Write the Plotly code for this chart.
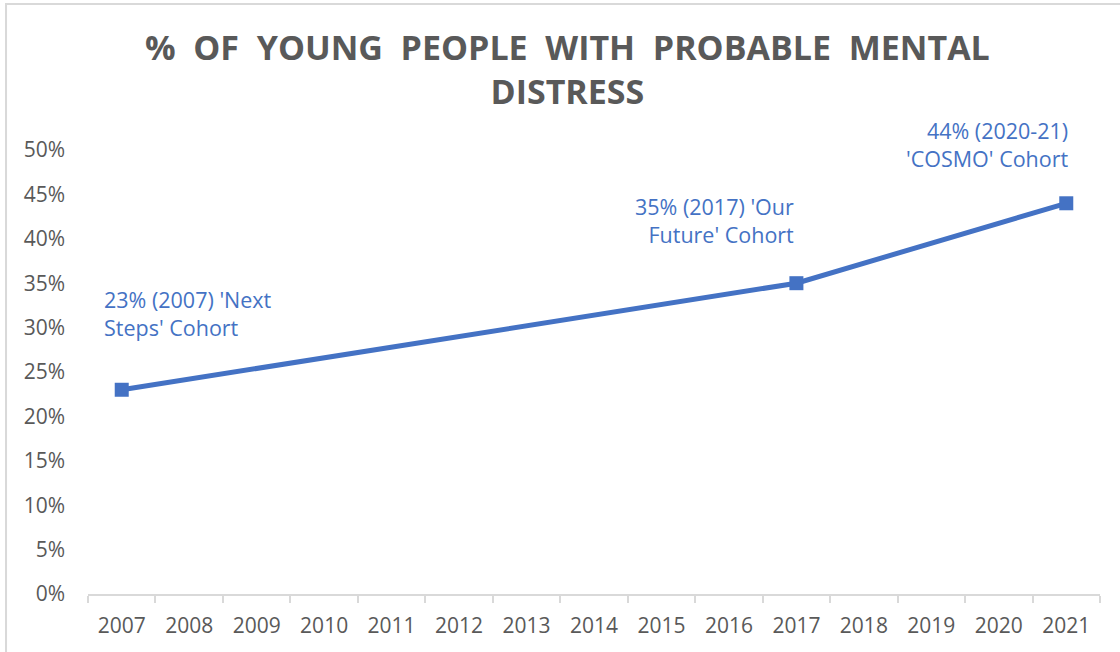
import plotly.graph_objects as go

# Survey waves and the share of young people with probable mental distress
years = [str(y) for y in range(2007, 2022)]
wave_years = ["2007", "2017", "2021"]
distress_share = [0.23, 0.35, 0.44]
wave_labels = [
    "23% (2007) 'Next<br>Steps' Cohort",
    "35% (2017) 'Our<br>Future' Cohort",
    "44% (2020-21)<br>'COSMO' Cohort",
]
y_ticks = [0, 0.05, 0.10, 0.15, 0.20, 0.25, 0.30, 0.35, 0.40, 0.45, 0.50]
y_tick_text = [f"{round(v * 100)}%" for v in y_ticks]

BLUE = "#4472C4"
GREY = "#595959"
AXIS = "#D9D9D9"
FONT = "Open Sans"

fig = go.Figure()
fig.add_trace(go.Scatter(
    x=wave_years, y=distress_share,
    mode="lines+markers",
    line=dict(color=BLUE, width=5),
    marker=dict(symbol="square", size=14, color=BLUE),
    hoverinfo="skip",
))

# Data labels beside each wave (offsets in pixels from the point)
label_pos = [
    dict(xanchor="left", align="left", ax=-20, ay=-76),
    dict(xanchor="right", align="right", ax=0, ay=-63),
    dict(xanchor="right", align="right", ax=5, ay=-59),
]
for x, y, text, pos in zip(wave_years, distress_share, wave_labels, label_pos):
    fig.add_annotation(
        x=years.index(x), y=y, text=text, showarrow=True,
        arrowcolor="rgba(0,0,0,0)", arrowwidth=0.1,
        ax=pos["ax"], ay=pos["ay"], xanchor=pos["xanchor"], align=pos["align"],
        yanchor="middle",
        font=dict(family=FONT, size=21.5, color=BLUE),
    )

fig.add_annotation(
    xref="paper", yref="paper", x=0.474, y=1.288, yanchor="top",
    text="<b>%  OF  YOUNG  PEOPLE  WITH  PROBABLE  MENTAL<br>DISTRESS</b>",
    showarrow=False, align="center",
    font=dict(family=FONT, size=34, color=GREY),
)

# Chart-area border
fig.add_shape(type="rect", xref="paper", yref="paper",
              x0=-0.081, x1=1.2, y0=-0.3, y1=1.329,
              line=dict(color=AXIS, width=2), layer="below")

fig.update_layout(
    width=1120, height=652,
    margin=dict(l=88, r=20, t=150, b=58),
    paper_bgcolor="white", plot_bgcolor="white",
    showlegend=False,
    font=dict(family=FONT, color=GREY),
    xaxis=dict(
        type="category", categoryorder="array", categoryarray=years,
        tickson="boundaries", ticks="outside", ticklen=7, tickcolor=AXIS,
        tickwidth=1.5, showline=True, linecolor=AXIS, linewidth=1.5,
        showgrid=False, tickfont=dict(family=FONT, size=21, color=GREY),
        ticklabelstandoff=12, range=[-0.5, 14.5], fixedrange=True,
    ),
    yaxis=dict(
        range=[0, 0.5], tickvals=y_ticks, ticktext=y_tick_text,
        showgrid=False, zeroline=False, showline=False, ticks="",
        tickfont=dict(family=FONT, size=21, color=GREY),
        ticklabelstandoff=22, fixedrange=True,
    ),
)

fig.write_html("out.html")
